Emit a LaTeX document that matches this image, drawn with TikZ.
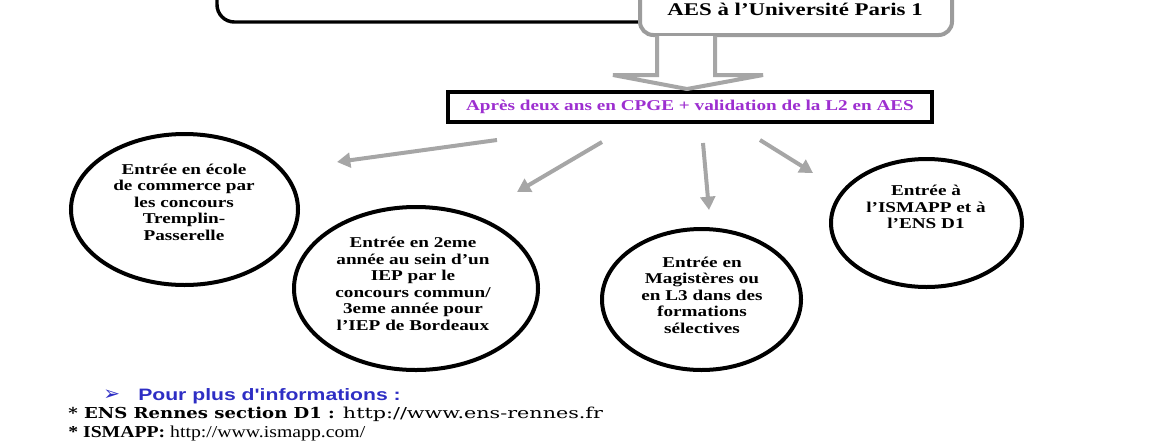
\documentclass[tikz,border=0pt]{standalone}
\usepackage{fontspec}
\usepackage{graphicx}
\setmainfont{Liberation Serif}[FakeStretch=1.28]
\newfontfamily\arialb{Liberation Sans}[FakeStretch=1.28]
\newfontfamily\dvs{DejaVu Sans}
\newfontfamily\dvserif{DejaVu Serif}
\usetikzlibrary{arrows.meta,shapes.geometric}
\definecolor{arrgray}{HTML}{A6A6A6}
\definecolor{boxgray}{HTML}{9C9C9C}
\definecolor{purp}{HTML}{9D2FD0}
\definecolor{infoblue}{HTML}{2E2EC4}
\tikzset{
  oval/.style={draw=black, line width=3pt, ellipse, inner sep=0pt},
  ovaltext/.style={align=center, inner sep=0pt, font=\bfseries\fontsize{11.25}{12.4}\selectfont},
  garrow/.style={draw=arrgray, line width=3pt, -{Triangle[length=10pt,width=11pt]}},
  bottomline/.style={anchor=base west, inner sep=0pt},
}
\begin{document}
\begin{tikzpicture}[x=0.75pt,y=-0.75pt]
\useasboundingbox (0,0) rectangle (1152,447);
\clip (0,0) rectangle (1152,447);

% top boxes
\node[draw=black, line width=2.6pt, rounded corners=13pt, minimum width=483*0.75pt, minimum height=82*0.75pt, inner sep=0pt] (topbox) at (458.5,-19) {};
\node[draw=boxgray, fill=white, line width=3pt, rounded corners=10pt, minimum width=312*0.75pt, minimum height=95*0.75pt, inner sep=0pt] (parisbox) at (796,-12.5) {};
\node[anchor=base, inner sep=0pt, font=\bfseries\fontsize{13.4}{15}\selectfont] (paristext) at (795,15) {AES à l’Université Paris 1};

% purple box
\node[draw=black, line width=3pt, minimum width=484*0.75pt, minimum height=30*0.75pt, inner sep=0pt, text=purp, font=\bfseries\fontsize{11.25}{12.4}\selectfont] (cpge) at (690,107) {Après deux ans en CPGE + validation de la L2 en AES};

% hollow arrow
\draw[draw=arrgray, fill=white, line width=3pt, line join=miter]
  (657,36) -- (657,75) -- (613,75) -- (687,89) -- (763,75) -- (715,75) -- (715,36);

% ovals
\node[oval, minimum width=227*0.75pt, minimum height=151*0.75pt] (c1) at (184.5,209.5) {};
\node[oval, minimum width=244*0.75pt, minimum height=163*0.75pt] (c2) at (416,288.5) {};
\node[oval, minimum width=199*0.75pt, minimum height=141*0.75pt] (c3) at (701.5,299.5) {};
\node[oval, minimum width=191*0.75pt, minimum height=128*0.75pt] (c4) at (926.5,223) {};

\node[ovaltext] (t1) at (184,202) {Entrée en école\\de commerce par\\les concours\\Tremplin-\\Passerelle};
\node[ovaltext] (t2) at (413,284) {Entrée en 2eme\\année au sein d’un\\IEP par le\\concours commun/\\3eme année pour\\l’IEP de Bordeaux};
\node[ovaltext] (t3) at (702,295) {Entrée en\\Magistères ou\\en L3 dans des\\formations\\sélectives};
\node[ovaltext] (t4) at (926,207) {Entrée à\\l’ISMAPP et à\\l’ENS D1};

% arrows
\coordinate (a1s) at (497,140); \coordinate (a1e) at (337,162);
\coordinate (a2s) at (602,142); \coordinate (a2e) at (517,192);
\coordinate (a3s) at (703,143); \coordinate (a3e) at (709,210);
\coordinate (a4s) at (760,140); \coordinate (a4e) at (813,173);
\draw[garrow] (a1s) -- (a1e);
\draw[garrow] (a2s) -- (a2e);
\draw[garrow] (a3s) -- (a3e);
\draw[garrow] (a4s) -- (a4e);

% bottom text
\node[bottomline, text=infoblue, font=\dvs\bfseries\fontsize{15}{16}\selectfont] (infoarrow) at (103,400) {➢};
\node[bottomline, text=infoblue, font=\arialb\bfseries\fontsize{12.4}{14}\selectfont] (info) at (138,400) {Pour plus d'informations :};
\node[bottomline] (ens) at (68,418) {\resizebox{200pt}{\height}{\dvserif\fontsize{11.3}{13}\selectfont\bfseries * ENS Rennes section D1 :}\hspace{6pt}\resizebox{195pt}{\height}{\dvserif\fontsize{11.3}{13}\selectfont http://www.ens-rennes.fr}};
\node[bottomline] (ismapp) at (68,437) {\resizebox{222.75pt}{\height}{\fontsize{12.5}{14}\selectfont\bfseries * ISMAPP:\mdseries\ http://www.ismapp.com/}};
\end{tikzpicture}
\end{document}
